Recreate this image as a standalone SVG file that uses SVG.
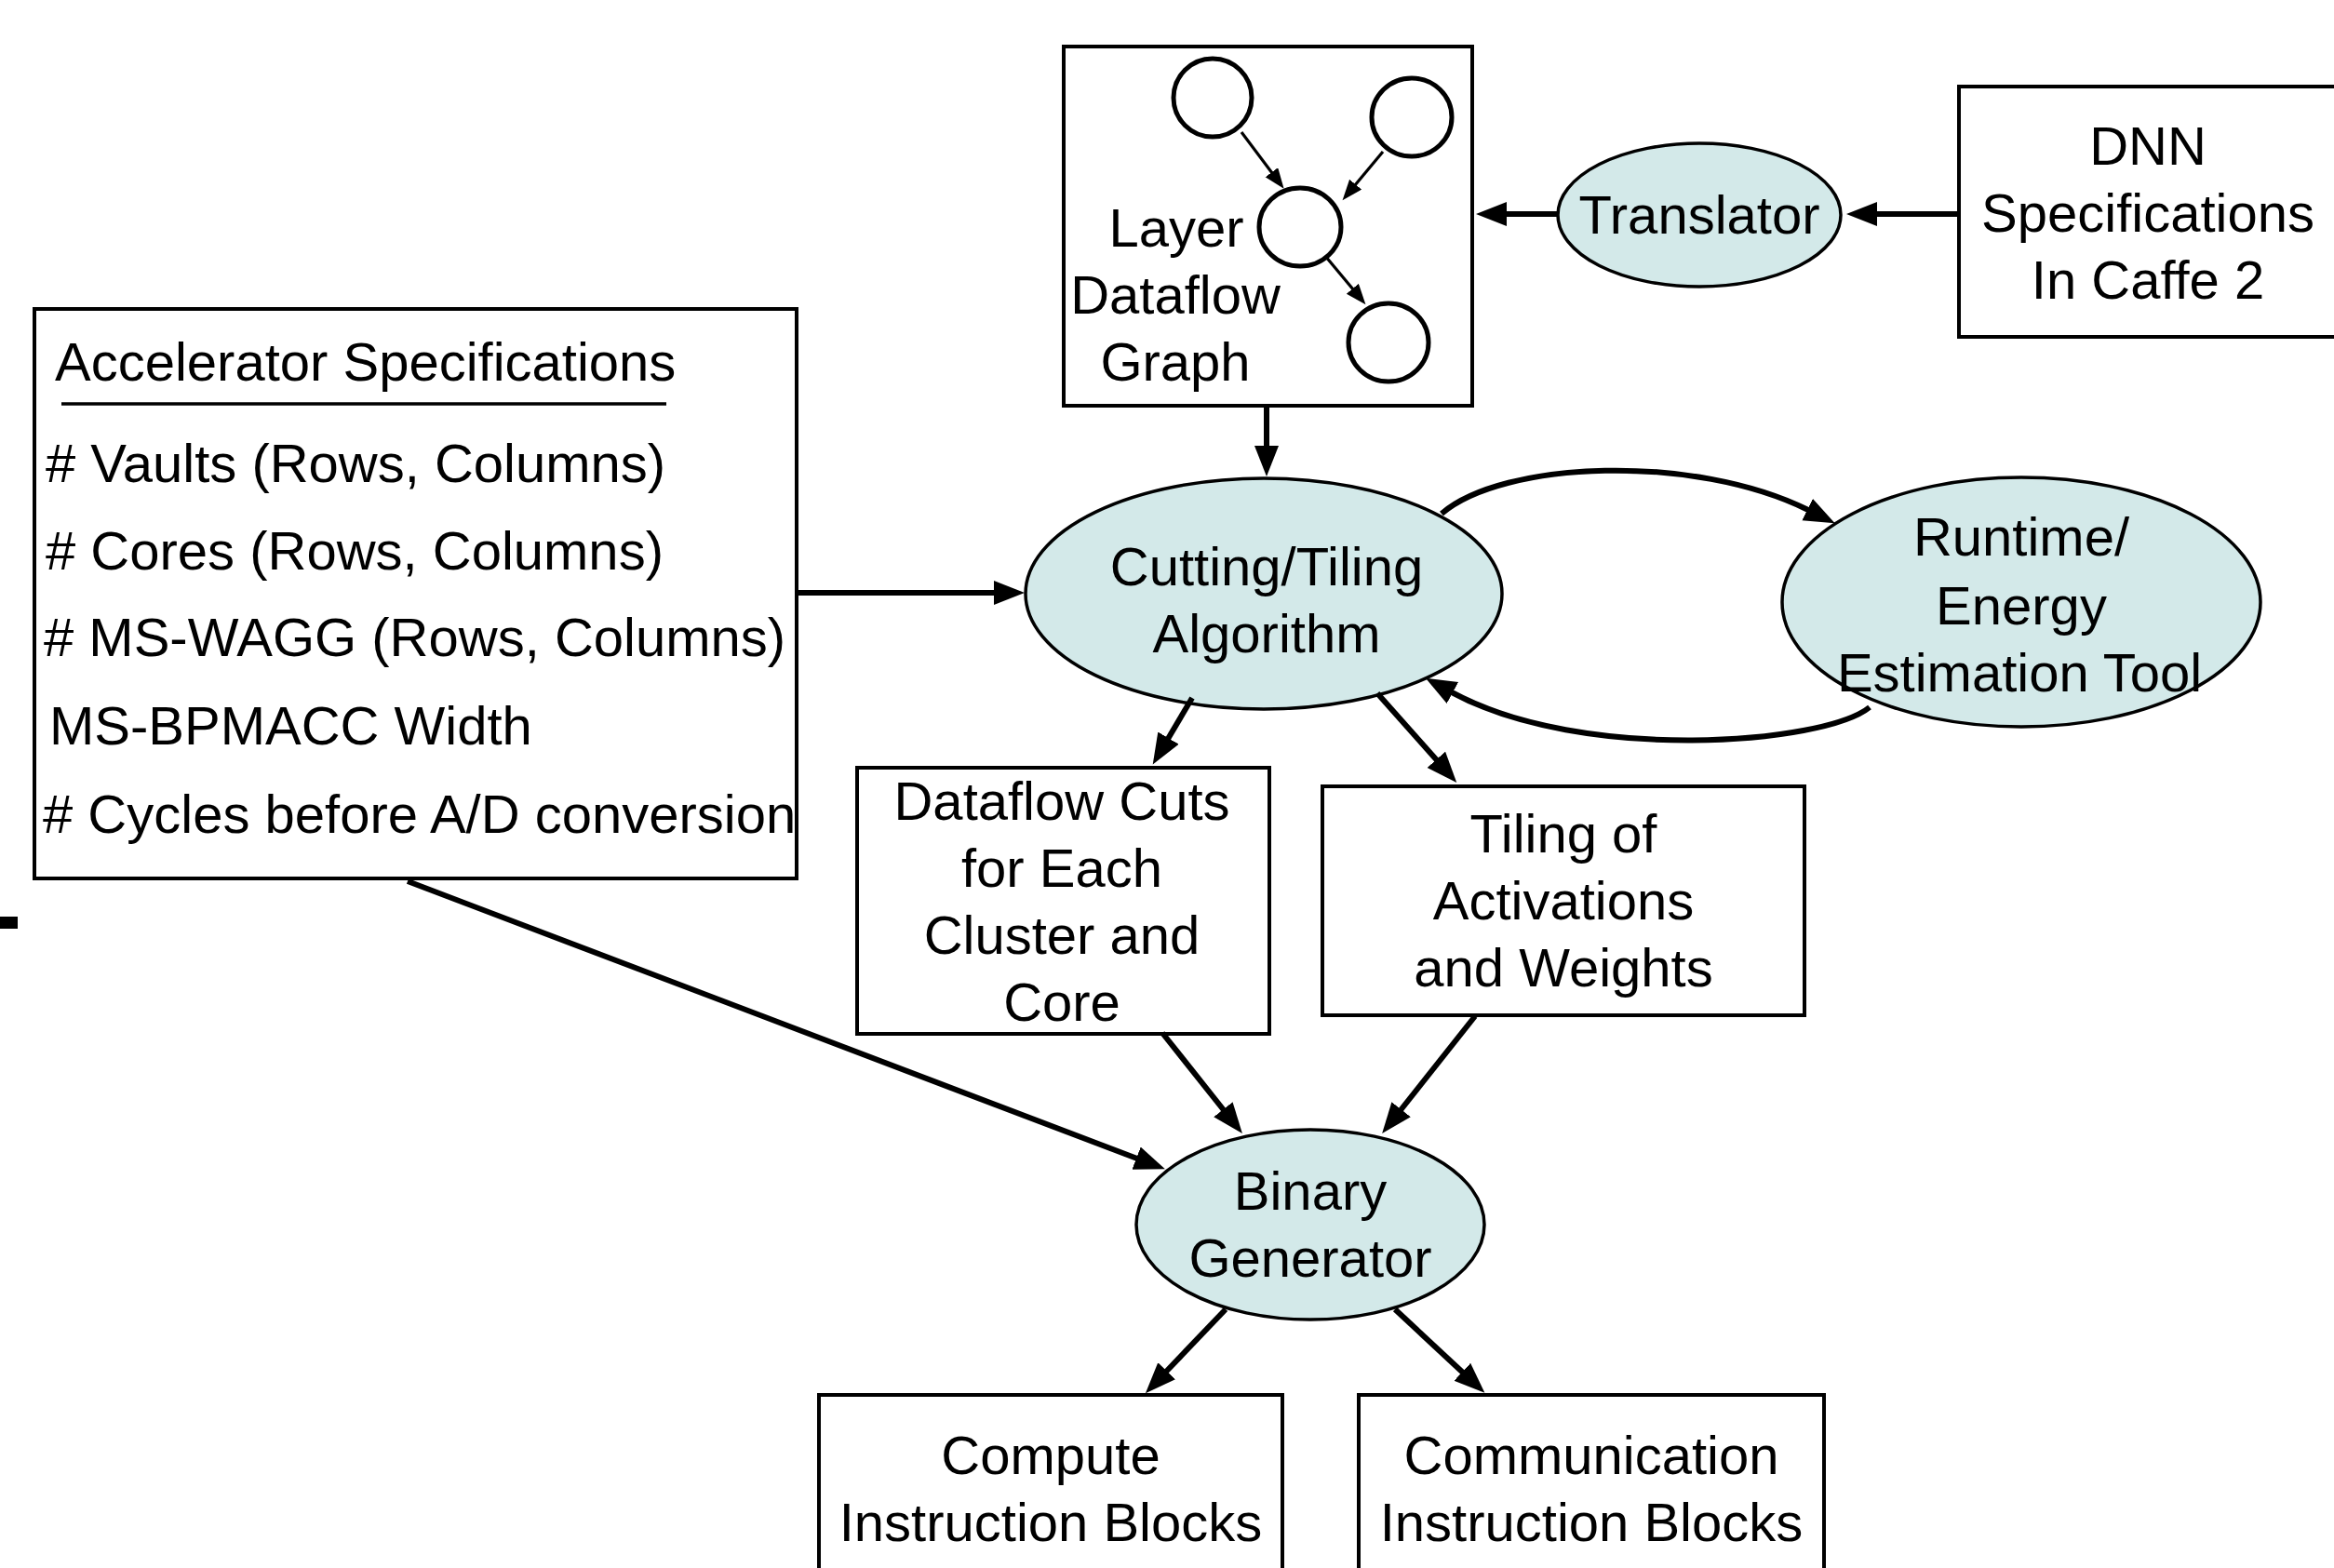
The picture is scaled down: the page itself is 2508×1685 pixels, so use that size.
<svg xmlns="http://www.w3.org/2000/svg" width="2508" height="1685" viewBox="0 0 2508 1685">
  <defs>
    <marker id="head" markerUnits="userSpaceOnUse" markerWidth="36" markerHeight="28" refX="1" refY="13" orient="auto">
      <path d="M0,0 L33,13 L0,26 z" fill="#000"/>
    </marker>
    <marker id="headSmall" markerUnits="userSpaceOnUse" markerWidth="24" markerHeight="18" refX="1" refY="8.5" orient="auto">
      <path d="M0,0 L22,8.5 L0,17 z" fill="#000"/>
    </marker>
  </defs>
  <style>
    text { font-family: "Liberation Sans", Arial, Helvetica, sans-serif; font-size: 58px; fill: #000; }
    .c { text-anchor: middle; }
    .box { fill: #fff; stroke: #000; stroke-width: 4; }
    .proc { fill: #d3e9e9; stroke: #000; stroke-width: 3.5; }
    .node { fill: #fff; stroke: #000; stroke-width: 5; }
    .edge { fill: none; stroke: #000; stroke-width: 6; marker-end: url(#head); }
    .edge-s { fill: none; stroke: #000; stroke-width: 3.2; marker-end: url(#headSmall); }
  </style>

  <rect width="2508" height="1685" fill="#fff"/>

  <!-- stray edge mark on the left -->
  <rect x="0" y="985" width="19" height="13" fill="#000"/>

  <!-- Layer dataflow graph -->
  <g id="layer-graph">
    <rect class="box" x="1143" y="50" width="439" height="386"/>
    <ellipse class="node" cx="1303" cy="105" rx="42" ry="42"/>
    <ellipse class="node" cx="1517" cy="126" rx="43" ry="42"/>
    <ellipse class="node" cx="1397" cy="244" rx="44" ry="42"/>
    <ellipse class="node" cx="1492" cy="368" rx="43" ry="42"/>
    <path class="edge-s" d="M1334,142 L1367,186"/>
    <path class="edge-s" d="M1486,163 L1456,199"/>
    <path class="edge-s" d="M1424,275 L1454,311"/>
    <text class="c" x="1264" y="265">Layer</text>
    <text class="c" x="1263" y="337">Dataflow</text>
    <text class="c" x="1263" y="409">Graph</text>
  </g>

  <!-- Translator -->
  <g id="translator">
    <ellipse class="proc" cx="1826" cy="231" rx="152" ry="77"/>
    <text class="c" x="1826" y="251">Translator</text>
  </g>

  <!-- DNN specifications -->
  <g id="dnn-spec">
    <rect class="box" x="2105" y="93" width="420" height="269"/>
    <text class="c" x="2308" y="177">DNN</text>
    <text class="c" x="2308" y="249">Specifications</text>
    <text class="c" x="2308" y="321">In Caffe 2</text>
  </g>

  <!-- Accelerator specifications -->
  <g id="accel-spec">
    <rect class="box" x="37" y="332" width="819" height="612"/>
    <text x="59" y="409">Accelerator Specifications</text>
    <line x1="66" y1="434" x2="716" y2="434" stroke="#000" stroke-width="3.5"/>
    <text x="49" y="518"># Vaults (Rows, Columns)</text>
    <text x="49" y="612"># Cores (Rows, Columns)</text>
    <text x="47" y="705"># MS-WAGG (Rows, Columns)</text>
    <text x="53" y="800">MS-BPMACC Width</text>
    <text x="46" y="895"># Cycles before A/D conversion</text>
  </g>

  <!-- Cutting / tiling algorithm -->
  <g id="cutting-tiling">
    <ellipse class="proc" cx="1358" cy="638" rx="256" ry="124"/>
    <text class="c" x="1361" y="629">Cutting/Tiling</text>
    <text class="c" x="1361" y="701">Algorithm</text>
  </g>

  <!-- Runtime / energy estimation -->
  <g id="runtime-energy">
    <ellipse class="proc" cx="2172" cy="647" rx="257" ry="134"/>
    <text class="c" x="2172" y="597">Runtime/</text>
    <text class="c" x="2172" y="671">Energy</text>
    <text class="c" x="2170" y="743">Estimation Tool</text>
  </g>

  <!-- Dataflow cuts -->
  <g id="dataflow-cuts">
    <rect class="box" x="921" y="825" width="443" height="286"/>
    <text class="c" x="1141" y="881">Dataflow Cuts</text>
    <text class="c" x="1141" y="953">for Each</text>
    <text class="c" x="1141" y="1025">Cluster and</text>
    <text class="c" x="1141" y="1097">Core</text>
  </g>

  <!-- Tiling of activations and weights -->
  <g id="tiling">
    <rect class="box" x="1421" y="845" width="518" height="246"/>
    <text class="c" x="1680" y="916">Tiling of</text>
    <text class="c" x="1680" y="988">Activations</text>
    <text class="c" x="1680" y="1060">and Weights</text>
  </g>

  <!-- Binary generator -->
  <g id="binary-generator">
    <ellipse class="proc" cx="1408" cy="1316" rx="187" ry="102"/>
    <text class="c" x="1408" y="1300">Binary</text>
    <text class="c" x="1408" y="1372">Generator</text>
  </g>

  <!-- Output blocks -->
  <g id="compute-blocks">
    <rect class="box" x="880" y="1499" width="498" height="220"/>
    <text class="c" x="1129" y="1584">Compute</text>
    <text class="c" x="1129" y="1656">Instruction Blocks</text>
  </g>
  <g id="communication-blocks">
    <rect class="box" x="1460" y="1499" width="500" height="220"/>
    <text class="c" x="1710" y="1584">Communication</text>
    <text class="c" x="1710" y="1656">Instruction Blocks</text>
  </g>

  <!-- Connectors -->
  <g id="connectors">
    <path class="edge" d="M2105,230 L2016,230"/>
    <path class="edge" d="M1675,230 L1618,230"/>
    <path class="edge" d="M1361,437 L1361,480"/>
    <path class="edge" d="M856,637 L1069,637"/>
    <path class="edge" d="M1549,552 C1615,495 1820,487 1943,548"/>
    <path class="edge" d="M2009,760 C1960,800 1700,820 1560,744"/>
    <path class="edge" d="M1281,750 L1255,794"/>
    <path class="edge" d="M1480,745 L1544,817"/>
    <path class="edge" d="M1249,1110 L1315,1193"/>
    <path class="edge" d="M1585,1092 L1505,1193"/>
    <path class="edge" d="M438,947 L1222,1245"/>
    <path class="edge" d="M1317,1407 L1253,1474"/>
    <path class="edge" d="M1499,1407 L1572,1475"/>
  </g>
</svg>
